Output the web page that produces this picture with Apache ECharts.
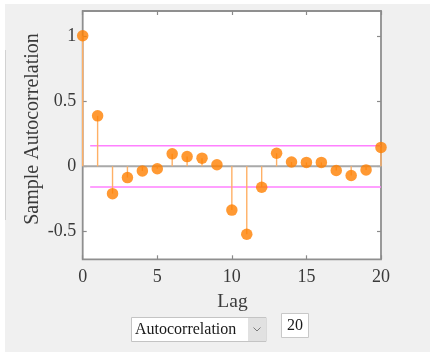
<!DOCTYPE html>
<html>
<head>
<meta charset="utf-8">
<script src="https://cdn.jsdelivr.net/npm/echarts@6/dist/echarts.min.js"></script>
<style>
  html, body { margin: 0; padding: 0; background: #ffffff; }
  #chart { width: 430px; height: 352px; }
</style>
</head>
<body>
<div id="chart"></div>
<script>
// Sample autocorrelation by lag
const lags = [0, 1, 2, 3, 4, 5, 6, 7, 8, 9, 10, 11, 12, 13, 14, 15, 16, 17, 18, 19, 20];
const acf = [1, 0.387, -0.209, -0.086, -0.035, -0.018, 0.096, 0.075, 0.063, 0.012,
             -0.335, -0.52, -0.16, 0.10, 0.033, 0.03, 0.03, -0.032, -0.07, -0.027, 0.145];
// Approximate 95% confidence bounds
const bound = 0.158;
const boundStartLag = 0.5;
const xTicks = [0, 5, 10, 15, 20];
const yTicks = [-0.5, 0, 0.5, 1];
const yRange = [-0.712, 1.19];
const xLabel = 'Lag';
const yLabel = 'Sample Autocorrelation';
const menuText = 'Autocorrelation';
const lagCountText = '20';

const serif = 'Liberation Serif';
const chart = echarts.init(document.getElementById('chart'), null, { renderer: 'canvas' });

const stemData = lags.map((l, i) => [l, acf[i]]);
const lastLag = lags[lags.length - 1];

const grid = { left: 82.7, top: 11, width: 298.3, height: 248.3 };

const hiddenLine = { show: false, onZero: false };
const tickStyle = { show: true, inside: true, length: 4, lineStyle: { color: '#8a8a8a', width: 1.2 } };
const tickLabel = { fontFamily: serif, fontSize: 18, color: '#3a3a3a' };

chart.setOption({
  animation: false,
  backgroundColor: 'transparent',
  textStyle: { fontFamily: serif },
  graphic: [
    { type: 'rect', z: -10, shape: { x: 5, y: 4, width: 425, height: 348 }, style: { fill: '#f0f0f0' } },
    { type: 'rect', z: -9, shape: { x: 5, y: 50, width: 1, height: 170 }, style: { fill: '#d2d2d2' } },
    {
      type: 'text', x: 33, y: 129, rotation: Math.PI / 2,
      style: { text: yLabel, font: '20px "Liberation Serif"', fill: '#3a3a3a', align: 'center', verticalAlign: 'middle' }
    },
    {
      type: 'text', x: 232.5, y: 301.5,
      style: { text: xLabel, font: '19.5px "Liberation Serif"', fill: '#3a3a3a', align: 'center', verticalAlign: 'middle' }
    },
    // popup menu
    { type: 'rect', shape: { x: 131.5, y: 317.5, width: 134.5, height: 24 }, style: { fill: '#ffffff', stroke: '#c4c4c4', lineWidth: 1 } },
    { type: 'rect', shape: { x: 248, y: 318, width: 17.5, height: 23 }, style: { fill: '#e1e1e1' } },
    { type: 'polyline', shape: { points: [[253.5, 327.5], [257, 331], [260.5, 327.5]] }, style: { stroke: '#7a7a7a', lineWidth: 1, fill: null } },
    {
      type: 'text', x: 135, y: 330,
      style: { text: menuText, font: '16px "Liberation Serif"', fill: '#1a1a1a', align: 'left', verticalAlign: 'middle' }
    },
    // lag count box
    { type: 'rect', shape: { x: 281.5, y: 313.5, width: 27, height: 24 }, style: { fill: '#ffffff', stroke: '#c8c8c8', lineWidth: 1 } },
    {
      type: 'text', x: 295, y: 325.5,
      style: { text: lagCountText, font: '16px "Liberation Serif"', fill: '#1a1a1a', align: 'center', verticalAlign: 'middle' }
    }
  ],
  grid: Object.assign({ show: true, backgroundColor: '#ffffff', borderColor: '#8f8f8f', borderWidth: 1.8 }, grid),
  xAxis: [
    {
      type: 'value', min: 0, max: 20, position: 'bottom',
      axisLine: hiddenLine, splitLine: { show: false },
      axisTick: Object.assign({ customValues: xTicks }, tickStyle),
      axisLabel: Object.assign({ customValues: xTicks, margin: 9 }, tickLabel)
    },
    {
      type: 'value', min: 0, max: 20, position: 'top',
      axisLine: hiddenLine, splitLine: { show: false },
      axisTick: Object.assign({ customValues: xTicks }, tickStyle),
      axisLabel: { show: false }
    }
  ],
  yAxis: [
    {
      type: 'value', min: yRange[0], max: yRange[1], position: 'left',
      axisLine: hiddenLine, splitLine: { show: false },
      axisTick: Object.assign({ customValues: yTicks }, tickStyle),
      axisLabel: Object.assign({ customValues: yTicks, margin: 6.5 }, tickLabel)
    },
    {
      type: 'value', min: yRange[0], max: yRange[1], position: 'right',
      axisLine: hiddenLine, splitLine: { show: false },
      axisTick: Object.assign({ customValues: yTicks }, tickStyle),
      axisLabel: { show: false }
    }
  ],
  series: [
    {
      // zero reference line
      type: 'line', data: [[0, 0], [lastLag, 0]], symbol: 'none', silent: true, z: 2,
      lineStyle: { color: '#a9a9a9', width: 2 }
    },
    {
      type: 'line', data: [[boundStartLag, bound], [lastLag, bound]], symbol: 'none', silent: true, z: 2,
      lineStyle: { color: '#ff80ff', width: 1.6 }
    },
    {
      type: 'line', data: [[boundStartLag, -bound], [lastLag, -bound]], symbol: 'none', silent: true, z: 2,
      lineStyle: { color: '#ff80ff', width: 1.6 }
    },
    {
      // stems from zero to each value
      type: 'custom', data: stemData, z: 3,
      renderItem: function (params, api) {
        const p0 = api.coord([api.value(0), 0]);
        const p1 = api.coord([api.value(0), api.value(1)]);
        return {
          type: 'line',
          shape: { x1: p0[0], y1: p0[1], x2: p1[0], y2: p1[1] },
          style: { stroke: '#ffb066', lineWidth: 1.4 }
        };
      }
    },
    {
      type: 'scatter', data: stemData, symbol: 'circle', symbolSize: 11.5, z: 4,
      itemStyle: { color: '#ff8000' }
    }
  ]
});
</script>
</body>
</html>
